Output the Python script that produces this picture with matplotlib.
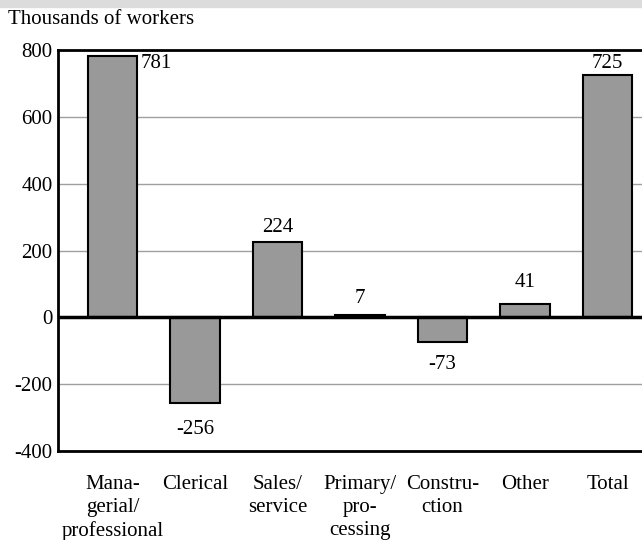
import numpy as np
import matplotlib.pyplot as plt
from matplotlib.patches import Rectangle

plt.rc('font', family='Liberation Serif', size=15)
plt.rc('axes', unicode_minus=False)

categories = ['Mana-\ngerial/\nprofessional', 'Clerical', 'Sales/\nservice',
              'Primary/\npro-\ncessing', 'Constru-\nction', 'Other', 'Total']
values = [781, -256, 224, 7, -73, 41, 725]
yticks = [-400, -200, 0, 200, 400, 600, 800]

# gap between bar end and its value label, in pixels
label_gap = [0, 24, 17, 19, 20, 24, 14.5]

fig = plt.figure(figsize=(6.42, 5.4), dpi=100)
# grey band across the top
fig.patches.append(Rectangle((0, 1 - 7/540), 1, 7/540, transform=fig.transFigure,
                             color='#dcdcdc', zorder=0))
ax = fig.add_axes([58/642, (540-451)/540, 586/642, 401/540])

x = np.arange(len(values))
ax.bar(x, values, width=0.6, color='#999999', edgecolor='black', lw=1.5, zorder=3)
ax.axhline(0, color='black', lw=2.5, zorder=4)
ax.set_ylim(-400, 800)
ax.set_xlim(-0.66, 6.44)
ax.set_yticks(yticks)
ax.yaxis.grid(True, color='#a0a0a0', lw=1)
ax.set_axisbelow(True)
ax.tick_params(length=0)
ax.tick_params(axis='y', pad=4)
ax.set_xticks(x)
ax.set_xticklabels(categories, va='top', linespacing=1.3)
ax.tick_params(axis='x', pad=17)
for s in ax.spines.values():
    s.set_linewidth(2)

for i, v in enumerate(values):
    if i == 0:
        ax.text(i + 0.34, v - 15, str(v), ha='left', va='center_baseline')
    else:
        sign = 1 if v >= 0 else -1
        ax.annotate(str(v), (i, v), xytext=(0, sign * label_gap[i] * 0.72),
                    textcoords='offset points', ha='center', va='center_baseline')

fig.text(8/642, 1 - 20/540, 'Thousands of workers', ha='left', va='center')

fig.savefig('out.png', dpi=100)
